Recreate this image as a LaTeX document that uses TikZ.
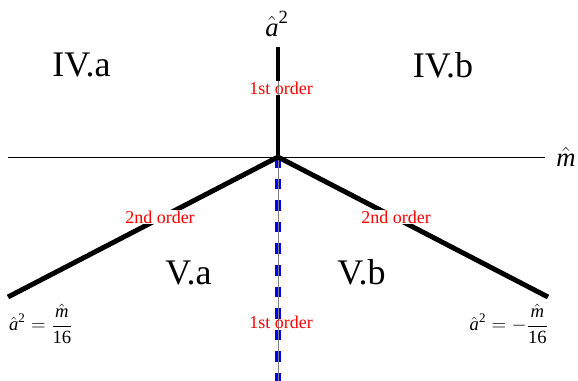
\documentclass[tikz,border=0pt]{standalone}
\usepackage{amsmath}
\usepackage{fontspec}
\setmainfont{Liberation Serif}
\newcommand{\ita}[1]{\text{\textit{#1}}}
\newcommand{\upt}[1]{\text{\textup{#1}}}
\begin{document}
\begin{tikzpicture}[x=0.75pt,y=-0.75pt,
  ord/.style={text=red,font=\fontsize{13.5}{16}\selectfont,fill=white,inner sep=0.5pt},
  region/.style={font=\fontsize{27}{32}\selectfont,inner sep=0pt},
  axlabel/.style={font=\fontsize{20}{24}\selectfont,inner sep=0pt},
  formula/.style={font=\fontsize{14}{17}\selectfont,inner sep=0pt},
  boundary/.style={line width=3.7pt,black},
  dashboundary/.style={line width=3.8pt,blue,dash pattern=on 8pt off 8.2pt},
  thinaxis/.style={line width=0.6pt,black},
  grayaxis/.style={line width=0.6pt,gray}]
\useasboundingbox (0,0) rectangle (578,381);
% coordinates
\coordinate (O) at (278,157);
\coordinate (Ltop) at (278,47);
\coordinate (Lbot) at (278,381);
\coordinate (Hl) at (8,157);
\coordinate (Hr) at (545,157);
\coordinate (Dl) at (8,297);
\coordinate (Dr) at (548,297);
% horizontal axis
\draw[thinaxis] (Hl) -- (Hr);
\node[axlabel] (mhat) at (566,157) {$\hat{\ita{m}}$};
% vertical
\draw[dashboundary] (O) -- (Lbot);
\draw[grayaxis] (O) -- (Lbot);
\draw[boundary] (Ltop) -- (O);
\draw[boundary] (O) -- (Dl);
\draw[boundary] (O) -- (Dr);
\node[ord] (o1) at (281,88) {1st order};
\draw[grayaxis] (o1.north -| O) -- (o1.south -| O);
\node[ord,fill=none] (o4) at (281,322) {1st order};
\node[ord] (o2) at (160,217) {2nd order};
\node[ord] (o3) at (396,217) {2nd order};
\node[axlabel] (ahat) at (277,24) {$\hat{\ita{a}}^{\upt{2}}$};
% regions
\node[region] (IVa) at (81.5,65) {IV.a};
\node[region] (IVb) at (443,65) {IV.b};
\node[region] (Va) at (188.5,272.5) {V.a};
\node[region] (Vb) at (361.5,272.5) {V.b};
% formulas
\node[formula] (fl) at (41,324) {$\displaystyle \hat{\ita{a}}^{\upt{2}}=\frac{\hat{\ita{m}}}{\upt{16}}$};
\node[formula] (fr) at (509,324) {$\displaystyle \hat{\ita{a}}^{\upt{2}}=-\frac{\hat{\ita{m}}}{\upt{16}}$};
\end{tikzpicture}
\end{document}
